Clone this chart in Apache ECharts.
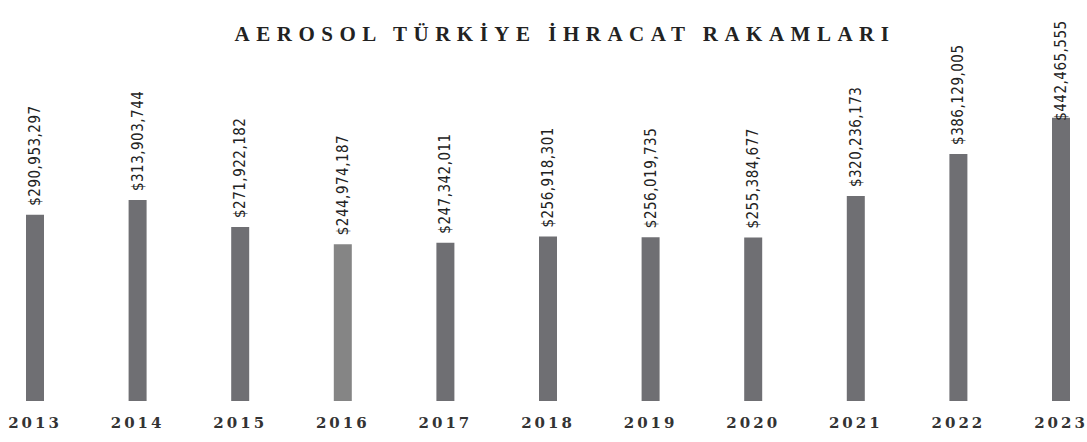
<!DOCTYPE html>
<html>
<head>
<meta charset="utf-8">
<script src="https://cdn.jsdelivr.net/npm/echarts@6/dist/echarts.min.js"></script>
<style>
  html, body { margin: 0; padding: 0; background: #fff; }
  #chart { width: 1087px; height: 442px; }
  /* wide tracking on the title and year labels, as in the scan */
  #chart text[style*="Liberation Serif"] { letter-spacing: 6.5px; }
  #chart text[style*="DejaVu Serif"] { letter-spacing: 3px; }
  #chart text[style*="DejaVu Sans Condensed"] { letter-spacing: 0.5px; }
</style>
</head>
<body>
<div id="chart"></div>
<script>
const years = ['2013', '2014', '2015', '2016', '2017', '2018', '2019', '2020', '2021', '2022', '2023']
const exportValues = [290953297, 313903744, 271922182, 244974187, 247342011, 256918301, 256019735, 255384677, 320236173, 386129005, 442465555]
const barColors = ['#6f6f73', '#6f6f73', '#6f6f73', '#858585', '#6f6f73', '#6f6f73', '#6f6f73', '#6f6f73', '#6f6f73', '#6f6f73', '#6f6f73']

const chart = echarts.init(document.getElementById('chart'), null, { renderer: 'svg' })

function fmt(v) {
  return '$' + v.toString().replace(/\B(?=(\d{3})+(?!\d))/g, ',')
}

const lastIdx = exportValues.length - 1

const option = {
  animation: false,
  backgroundColor: '#fff',
  title: {
    text: 'AEROSOL TÜRKİYE İHRACAT RAKAMLARI',
    left: 560,
    textAlign: 'center',
    top: 18,
    textStyle: {
      fontFamily: 'Liberation Serif',
      fontWeight: 'bold',
      fontSize: 21,
      color: '#222',
    },
  },
  grid: { left: 35, right: 26, top: 17, bottom: 41 },
  xAxis: {
    type: 'category',
    data: years,
    boundaryGap: false,
    axisLine: { show: false },
    axisTick: { show: false },
    axisLabel: {
      margin: 14,
      fontFamily: 'DejaVu Serif',
      fontWeight: 'bold',
      fontSize: 15,
      color: '#333',
    },
  },
  yAxis: {
    type: 'value',
    min: 0,
    max: 600000000,
    show: false,
  },
  series: [{
    type: 'bar',
    barWidth: 18,
    data: exportValues.map((v, i) => ({
      value: v,
      itemStyle: { color: barColors[i] },
      // last label sits over the bar top in the scan
      label: i === lastIdx ? { distance: -3 } : undefined,
    })),
    label: {
      show: true,
      position: 'top',
      rotate: 90,
      align: 'left',
      verticalAlign: 'middle',
      distance: 9,
      fontFamily: 'DejaVu Sans Condensed',
      fontSize: 15,
      color: '#222',
      formatter: p => fmt(p.value),
    },
  }],
}

chart.setOption(option)
</script>
</body>
</html>
